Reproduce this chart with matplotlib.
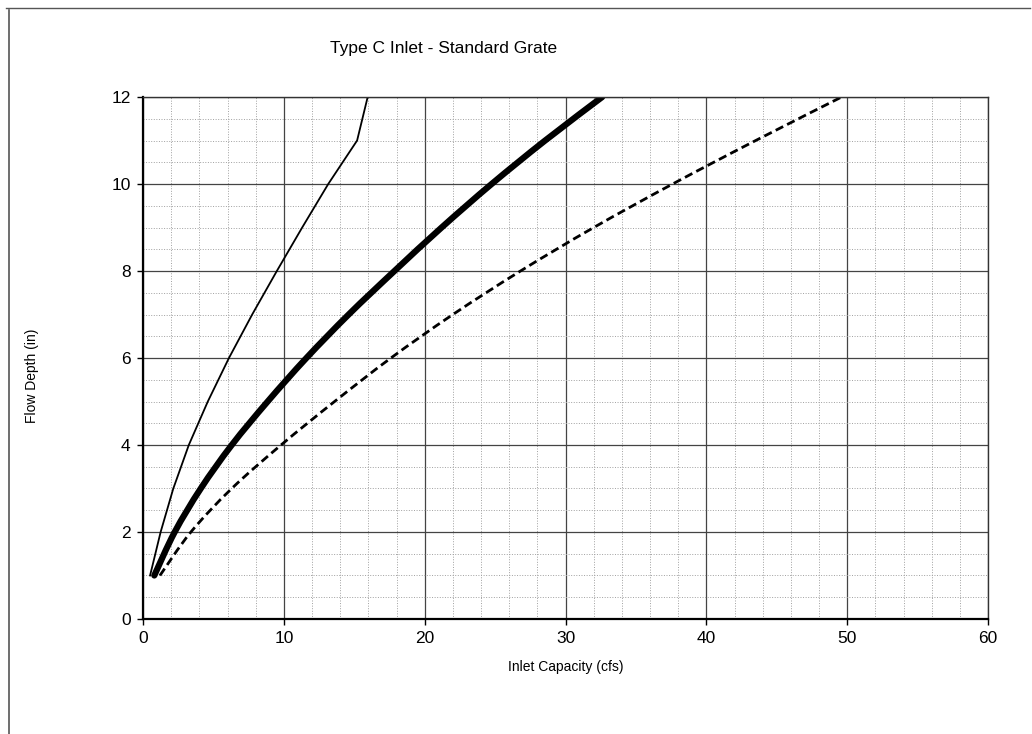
import matplotlib.pyplot as plt
from matplotlib.lines import Line2D
from matplotlib.path import Path
from matplotlib.patches import PathPatch
from matplotlib.ticker import MultipleLocator

plt.rcParams['font.family'] = ['Liberation Sans', 'DejaVu Sans']

# flow depth (in) and inlet capacity (cfs)
depth = [1, 2, 3, 4, 5, 6, 7, 8, 9, 10, 11, 12]
cap_thin = [0.5, 1.25, 2.15, 3.25, 4.6, 6.1, 7.75, 9.5, 11.3, 13.15, 15.2, 15.95]
cap_thick = [0.8, 2.25, 4.1, 6.3, 8.85, 11.6, 14.6, 17.85, 21.2, 24.75, 28.55, 32.6]
cap_dash = [1.2, 3.4, 6.3, 9.8, 13.6, 17.6, 22.0, 26.8, 32.0, 37.6, 43.5, 49.6]


def smooth_path(xs, ys):
    # excel style smoothed line: catmull-rom segments as cubic beziers
    pts = list(zip(xs, ys))
    n = len(pts)
    verts = [pts[0]]
    codes = [Path.MOVETO]
    for i in range(n - 1):
        p0 = pts[i - 1] if i > 0 else pts[i]
        p1 = pts[i]
        p2 = pts[i + 1]
        p3 = pts[i + 2] if i + 2 < n else pts[i + 1]
        c1 = (p1[0] + (p2[0] - p0[0]) / 6, p1[1] + (p2[1] - p0[1]) / 6)
        c2 = (p2[0] - (p3[0] - p1[0]) / 6, p2[1] - (p3[1] - p1[1]) / 6)
        verts += [c1, c2, p2]
        codes += [Path.CURVE4] * 3
    return Path(verts, codes)


fig = plt.figure(figsize=(10.32, 7.34), dpi=100)
ax = fig.add_axes([0.1386, 0.1567, 0.8188, 0.7111])

ax.plot(cap_thin, depth, color='black', lw=1.3)
ax.add_patch(PathPatch(smooth_path(cap_thick, depth), fill=False, ec='black', lw=4.5,
                       capstyle='round'))
ax.add_patch(PathPatch(smooth_path(cap_dash, depth), fill=False, ec='black', lw=2.0,
                       linestyle=(0, (3, 1.6))))

ax.set_xlim(0, 60)
ax.set_ylim(0, 12)
ax.xaxis.set_major_locator(MultipleLocator(10))
ax.yaxis.set_major_locator(MultipleLocator(2))
ax.xaxis.set_minor_locator(MultipleLocator(2))
ax.yaxis.set_minor_locator(MultipleLocator(0.5))
ax.grid(which='major', color='#444444', lw=0.9)
ax.grid(which='minor', color='#a0a0a0', lw=0.7, linestyle=':')
ax.set_axisbelow(True)

ax.tick_params(which='major', direction='out', length=4, width=1, labelsize=12.5, pad=5)
ax.tick_params(which='minor', length=0)
for s in ['left', 'bottom']:
    ax.spines[s].set_linewidth(1.6)
for s in ['top', 'right']:
    ax.spines[s].set_linewidth(1.0)
    ax.spines[s].set_color('#333333')

fig.text(0.43, 0.934, 'Type C Inlet - Standard Grate', fontsize=12.5, ha='center', va='center')
fig.text(0.548, 0.091, 'Inlet Capacity (cfs)', fontsize=10, ha='center', va='center')
fig.text(0.031, 0.488, 'Flow Depth (in)', fontsize=10, ha='center', va='center', rotation=90)

# scanned page frame
fig.add_artist(Line2D([0.009, 0.009], [0.0, 0.986], color='#555555', lw=1.2))
fig.add_artist(Line2D([0.006, 0.998], [0.989, 0.989], color='#555555', lw=1.0))

fig.savefig('out.png', dpi=100)
